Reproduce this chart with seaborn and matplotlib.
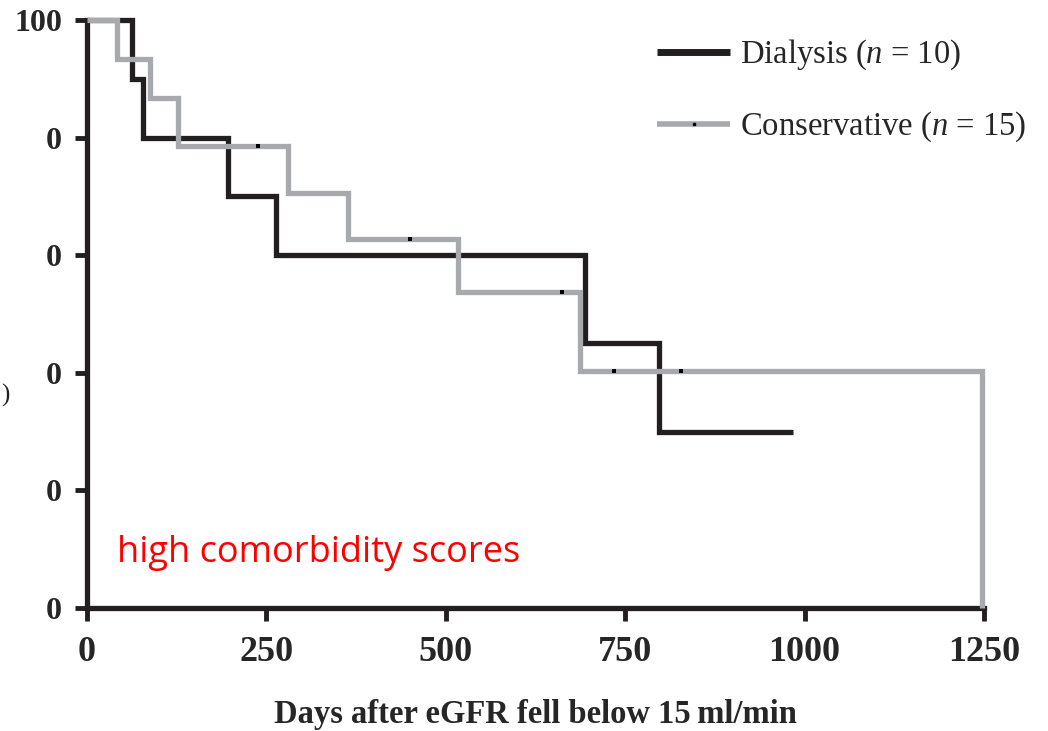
import numpy as np
import pandas as pd
import matplotlib
matplotlib.use("Agg")
import matplotlib.pyplot as plt
from matplotlib.lines import Line2D
import seaborn as sns

# ---- data ----
dial_days = [0, 63, 78, 196, 263, 694, 797, 984]
dial_surv = [100, 90, 80, 70, 60, 45, 30, 30]
cons_days = [0, 42, 88, 127, 280, 364, 517, 687, 1247]
cons_surv = [100, 93.3, 86.7, 78.5, 70.6, 62.8, 53.7, 40.3, 0]
cons_censor_days = [238, 450, 662, 734, 828]
cons_censor_surv = [78.5, 62.8, 53.7, 40.3, 40.3]
x_ticks = [0, 250, 500, 750, 1000, 1250]
y_ticks = [0, 20, 40, 60, 80, 100]
y_tick_labels = ["0", "0", "0", "0", "0", "100"]
dial_label = "Dialysis ($n$ = 10)"
cons_label = "Conservative ($n$ = 15)"
x_label = "Days after eGFR fell below 15\u2009ml/min"
note = "high comorbidity scores"

sns.set_style("ticks")
plt.rcParams["font.family"] = ["Liberation Serif", "DejaVu Serif"]
plt.rcParams["mathtext.fontset"] = "custom"
plt.rcParams["mathtext.it"] = "Liberation Serif:italic"
plt.rcParams["mathtext.rm"] = "Liberation Serif"

BLACK = "#231f20"
GRAY = "#a7a9ac"

fig = plt.figure(figsize=(10.48, 7.31), dpi=100)
ax = fig.add_axes([87/1048, 1-608/731, (984-87)/1048, (608-20)/731])

dial = pd.DataFrame({"days": dial_days, "surv": dial_surv})
cons = pd.DataFrame({"days": cons_days, "surv": cons_surv})

sns.lineplot(data=dial, x="days", y="surv", ax=ax, color=BLACK, lw=3.8,
             drawstyle="steps-post", estimator=None, sort=False, clip_on=False,
             solid_capstyle="butt", solid_joinstyle="miter", zorder=3)
sns.lineplot(data=cons, x="days", y="surv", ax=ax, color=GRAY, lw=3.8,
             drawstyle="steps-post", estimator=None, sort=False, clip_on=False,
             solid_capstyle="butt", solid_joinstyle="miter", zorder=4)
ax.scatter(cons_censor_days, cons_censor_surv, marker="s", s=5, color="black",
           zorder=5, clip_on=False, linewidths=0)

ax.set_xlim(0, 1250)
ax.set_ylim(0, 100)
ax.set_xticks(x_ticks)
ax.set_xticklabels([str(t) for t in x_ticks])
ax.set_yticks(y_ticks)
ax.set_yticklabels(y_tick_labels)
ax.set_xlabel(x_label, fontsize=23.5, fontweight="bold", labelpad=22)
ax.set_ylabel("")

for lab in ax.get_xticklabels():
    lab.set_fontweight("bold")
    lab.set_fontsize(26)
for lab in ax.get_yticklabels():
    lab.set_fontweight("bold")
    lab.set_fontsize(23)
ax.tick_params(axis="both", width=3.5, length=9, color=BLACK, direction="out")
ax.tick_params(axis="x", pad=11)
ax.tick_params(axis="y", pad=9)
for side in ["top", "right"]:
    ax.spines[side].set_visible(False)
for side in ["left", "bottom"]:
    ax.spines[side].set_linewidth(3.8)
    ax.spines[side].set_color(BLACK)

handles = [
    Line2D([], [], color=BLACK, lw=5, solid_capstyle="butt"),
    Line2D([], [], color=GRAY, lw=4, solid_capstyle="butt", marker="s",
           markersize=2, markerfacecolor="black", markeredgecolor="black"),
]
ax.legend(handles, [dial_label, cons_label], loc="upper left",
          bbox_to_anchor=((657-87)/897, (608-38)/588), frameon=False,
          fontsize=23.5, handlelength=2.25, handletextpad=0.3,
          labelspacing=1.15, borderpad=0, borderaxespad=0)

ax.text((117-87)/897, (608-553)/588, note, transform=ax.transAxes,
        color="red", fontsize=26, family=["Open Sans", "DejaVu Sans"],
        ha="left", va="center")

fig.text(0.001, 1-395/731, ")", fontsize=18, ha="left", va="center",
         color=BLACK)

fig.savefig("out.png", dpi=100)
